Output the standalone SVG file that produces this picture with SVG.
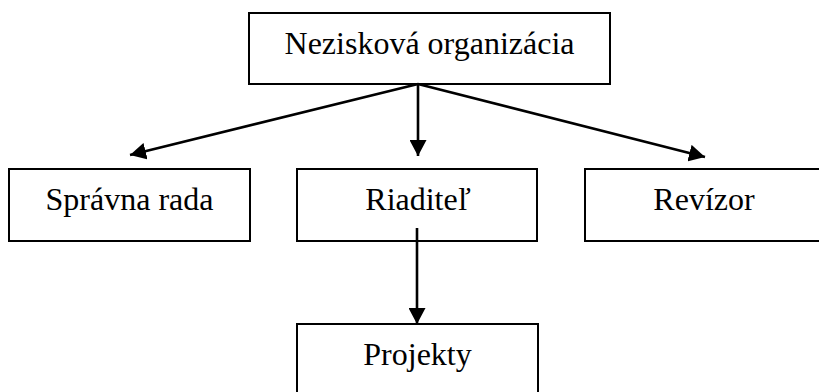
<svg xmlns="http://www.w3.org/2000/svg" width="819" height="392" viewBox="0 0 819 392">
<style>
.box{fill:#fff;stroke:#000;stroke-width:2}
.lbl{font-family:"Liberation Serif","Times New Roman",serif;font-size:32px;fill:#000;text-anchor:middle}
.con{stroke:#000;stroke-width:2.6;fill:none;marker-end:url(#ah)}
</style>
<defs>
<marker id="ah" markerUnits="userSpaceOnUse" markerWidth="16" markerHeight="17" refX="16" refY="8.5" orient="auto">
<path d="M0,0 L16,8.5 L0,17 z" fill="#000"/>
</marker>
</defs>
<rect width="819" height="392" fill="#fff"/>
<g id="n-org"><rect class="box" x="249" y="13" width="361" height="71"/><text class="lbl" x="429.5" y="54">Nezisková organizácia</text></g>
<g id="n-sprava"><rect class="box" x="9" y="169" width="241" height="72"/><text class="lbl" x="129.5" y="210">Správna rada</text></g>
<g id="n-riaditel"><rect class="box" x="297" y="169" width="240" height="72"/><text class="lbl" x="418" y="210">Riaditeľ</text></g>
<g id="n-revizor"><rect class="box" x="585" y="169" width="240" height="72"/><text class="lbl" x="704" y="210">Revízor</text></g>
<g id="n-projekty"><rect class="box" x="297" y="324" width="241" height="72"/><text class="lbl" x="417.5" y="365">Projekty</text></g>
<g id="connectors">
<line class="con" x1="418" y1="84" x2="130" y2="155"/>
<line class="con" x1="418" y1="84" x2="418" y2="156"/>
<line class="con" x1="418" y1="84" x2="705" y2="157"/>
<line class="con" x1="417" y1="228" x2="417" y2="324"/>
</g>
</svg>
